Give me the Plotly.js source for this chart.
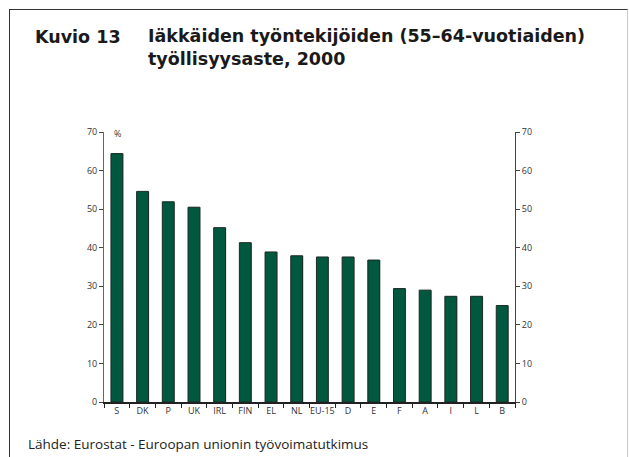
<!DOCTYPE html>
<html><head><meta charset="utf-8">
<script src="https://cdn.plot.ly/plotly-3.0.1.min.js"></script>
<style>
html,body{margin:0;padding:0;background:#fff;}
#wrap{position:relative;width:629px;height:457px;}
#frame{position:absolute;left:9px;top:9px;width:617px;height:460px;border-left:1.5px solid #333;border-top:1.5px solid #333;border-right:1.5px solid #ccc;pointer-events:none;}
#chart{position:absolute;left:0;top:0;width:629px;height:457px;}
</style></head>
<body><div id="wrap"><div id="chart"></div><div id="frame"></div></div>
<script>
const categories = ["S","DK","P","UK","IRL","FIN","EL","NL","EU-15","D","E","F","A","I","L","B"];
const rates = [64.4,54.6,51.9,50.5,45.2,41.3,38.9,37.9,37.6,37.6,36.8,29.4,29.0,27.4,27.4,25.0];
const yTicks = [0,10,20,30,40,50,60,70];

const traces = [
  {type:'bar', x:categories, y:rates, width:0.46, offset:-0.2,
   marker:{color:'#9a9a9a', line:{width:0}}, hoverinfo:'skip'},
  {type:'bar', x:categories, y:rates, width:0.46, offset:-0.23,
   marker:{color:'#00583F', line:{color:'#1b2b24', width:1}}, hoverinfo:'skip'},
  {type:'scatter', mode:'markers', x:categories, y:rates, yaxis:'y2',
   marker:{opacity:0}, hoverinfo:'skip', showlegend:false}
];
const tickFont = {family:'Open Sans, Liberation Sans, sans-serif', size:9, color:'#333'};
const layout = {
  width:629, height:457, showlegend:false,
  paper_bgcolor:'#fff', plot_bgcolor:'#fff',
  margin:{l:104, r:114, t:132, b:55},
  barmode:'overlay',
  xaxis:{type:'category', range:[-0.5,15.5], showline:true, linecolor:'#222', linewidth:1.5,
    ticks:'outside', tickson:'boundaries', ticklen:4, tickcolor:'#222',
    tickfont:tickFont, tickangle:0, showgrid:false, zeroline:false},
  yaxis:{range:[0,70], tickvals:yTicks, showline:true, linecolor:'#666', linewidth:1,
    ticks:'outside', ticklen:4, tickcolor:'#444', tickfont:tickFont,
    showgrid:false, zeroline:false},
  yaxis2:{range:[0,70], tickvals:yTicks, overlaying:'y', side:'right', showline:true,
    linecolor:'#444', linewidth:1, ticks:'outside', ticklen:4, tickcolor:'#444',
    tickfont:tickFont, showgrid:false, zeroline:false},
  annotations:[
    {xref:'paper', yref:'paper', x:0.02, y:1.0, xanchor:'left', yanchor:'middle', yshift:-1,
     text:'%', showarrow:false, font:{family:'Open Sans, Liberation Sans, sans-serif', size:9, color:'#333'}},
    {xref:'paper', yref:'paper', x:-0.172, y:1.0, xanchor:'left', yanchor:'middle', yshift:95,
     text:'<b>Kuvio 13</b>', showarrow:false, align:'left',
     font:{family:'DejaVu Sans, sans-serif', size:17.5, color:'#1a1a1a'}},
    {xref:'paper', yref:'paper', x:0.102, y:1.0, xanchor:'left', yanchor:'top', yshift:108,
     text:'<b>Iäkkäiden työntekijöiden (55–64-vuotiaiden)<br>työllisyysaste, 2000</b>', showarrow:false, align:'left',
     font:{family:'DejaVu Sans, sans-serif', size:17.5, color:'#1a1a1a'}},
    {xref:'paper', yref:'paper', x:-0.19, y:0, xanchor:'left', yanchor:'middle', yshift:-42,
     text:'Lähde: Eurostat - Euroopan unionin työvoimatutkimus', showarrow:false, align:'left',
     font:{family:'Open Sans, Liberation Sans, sans-serif', size:13.5, color:'#222'}}
  ]
};
Plotly.newPlot('chart', traces, layout, {displayModeBar:false, staticPlot:true});
</script></body></html>
